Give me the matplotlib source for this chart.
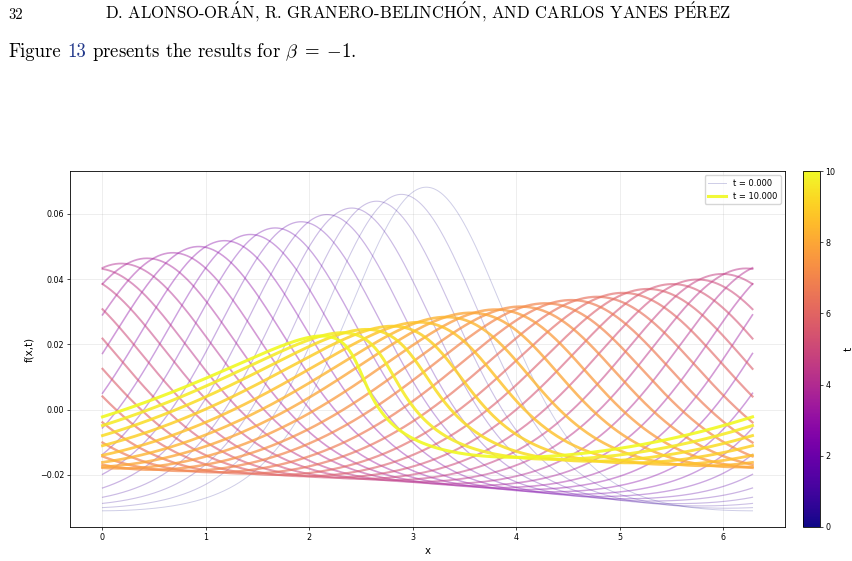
import numpy as np
import matplotlib
matplotlib.use('Agg')
import matplotlib.pyplot as plt
from matplotlib.colors import Normalize
from matplotlib.cm import ScalarMappable

plt.rcParams['mathtext.fontset'] = 'cm'

# --------------------------------------------------
# Snapshot data
# --------------------------------------------------
t_vals = [0.000, 0.333, 0.667, 1.000, 1.333, 1.667, 2.000, 2.333, 2.667, 3.000,
          3.333, 3.667, 4.000, 4.333, 4.667, 5.000, 5.333, 5.667, 6.000, 6.333,
          6.667, 7.000, 7.333, 7.667, 8.000, 8.333, 8.667, 9.000, 9.333, 9.667,
          10.000]

# position of the crest of each snapshot
peak_x = [3.13, 2.89, 2.65, 2.41, 2.17, 1.92, 1.67, 1.43, 1.18, 0.93,
          0.68, 0.43, 0.18, 6.22, 5.99, 5.75, 5.51, 5.27, 5.03, 4.78,
          4.53, 4.28, 4.04, 3.80, 3.56, 3.32, 3.06, 2.80, 2.55, 2.32,
          2.12]

# crest height
peak_y = [0.0682, 0.0660, 0.0639, 0.0618, 0.0598, 0.0576, 0.0557, 0.0537, 0.0518, 0.0500,
          0.0481, 0.0464, 0.0448, 0.0433, 0.0416, 0.0399, 0.0385, 0.0370, 0.0358, 0.0346,
          0.0336, 0.0326, 0.0316, 0.0307, 0.0297, 0.0284, 0.0268, 0.0256, 0.0246, 0.0236,
          0.0226]

# trough depth
trough_y = [-0.0310, -0.0302, -0.0295, -0.0288, -0.0280, -0.0273, -0.0266, -0.0259, -0.0252, -0.0245,
            -0.0239, -0.0233, -0.0227, -0.0221, -0.0216, -0.0212, -0.0208, -0.0204, -0.0200, -0.0196,
            -0.0192, -0.0188, -0.0184, -0.0180, -0.0176, -0.0172, -0.0168, -0.0163, -0.0158, -0.0152,
            -0.0146]

# narrowness of the crest (large = narrow bump)
narrow = [1.75, 1.70, 1.65, 1.60, 1.55, 1.50, 1.45, 1.40, 1.35, 1.30,
          1.25, 1.18, 1.10, 1.02, 0.94, 0.86, 0.78, 0.70, 0.63, 0.57,
          0.52, 0.47, 0.43, 0.40, 0.37, 0.35, 0.33, 0.32, 0.31, 0.30,
          0.30]

# steepening of the back face
skew = [0.00, 0.00, 0.00, 0.00, 0.00, 0.00, 0.00, 0.00, 0.00, 0.00,
        0.00, 0.00, 0.00, 0.02, 0.04, 0.06, 0.08, 0.10, 0.12, 0.15,
        0.18, 0.21, 0.25, 0.29, 0.33, 0.38, 0.43, 0.50, 0.57, 0.65,
        0.75]

# --------------------------------------------------
# Figure setup (page-like layout)
# --------------------------------------------------
W, H = 853, 561
fig = plt.figure(figsize=(W / 100, H / 100), dpi=100)

serif = ['cmr10', 'DejaVu Serif']
fig.text(8 / W, 1 - 19 / H, '32', family=serif, fontsize=10.5, va='baseline')
fig.text(418 / W, 1 - 19 / H,
         r'D. ALONSO-OR$\mathrm{\acute{A}}$N, R. GRANERO-BELINCH$\mathrm{\acute{O}}$N, '
         r'AND CARLOS YANES P$\mathrm{\acute{E}}$REZ',
         family=serif, fontsize=12, ha='center', va='baseline')

renderer = fig.canvas.get_renderer()
line_y = 1 - 57 / H
fs2 = 13.5
space = 0.333 * fs2 * 100 / 72 / W
t1 = fig.text(8 / W, line_y, 'Figure', family=serif, fontsize=fs2, va='baseline')
x1 = t1.get_window_extent(renderer).x1 / W + space
t2 = fig.text(x1, line_y, '13', family=serif, fontsize=fs2, va='baseline',
              color='#22388a')
x2 = t2.get_window_extent(renderer).x1 / W + space
fig.text(x2, line_y, r'presents the results for $\beta\;=\;{-1}$.', family=serif,
         fontsize=fs2, va='baseline')

ax = fig.add_axes([70 / W, 34 / H, 715 / W, 356 / H])
cax = fig.add_axes([803 / W, 34 / H, 17 / W, 356 / H])

cmap = plt.cm.plasma
norm = Normalize(0, 10)

# --------------------------------------------------
# Curves: crest travelling left on a periodic domain
# --------------------------------------------------
x = np.linspace(0, 2 * np.pi, 600)
phi = np.linspace(-np.pi, np.pi, 4000, endpoint=False)
c0 = 1.0

for k, t in enumerate(t_vals):
    kap = narrow[k]
    e = skew[k]
    theta = phi - e * (np.sin(phi - c0) + np.sin(c0))
    shape = (np.exp(kap * np.cos(phi)) - np.exp(-kap)) / (np.exp(kap) - np.exp(-kap))
    prof = np.interp(x - peak_x[k], theta, shape, period=2 * np.pi)
    y = trough_y[k] + (peak_y[k] - trough_y[k]) * prof

    frac = t / 10
    label = None
    if k == 0:
        label = 't = 0.000'
    elif k == len(t_vals) - 1:
        label = 't = 10.000'
    ax.plot(x, y, color=cmap(norm(t)), alpha=0.2 + 0.7 * frac,
            lw=0.7 + 1.5 * frac, label=label)

# --------------------------------------------------
# Axes styling
# --------------------------------------------------
ax.set_xlabel('x', fontsize=7.4, labelpad=3)
ax.set_ylabel('f(x,t)', fontsize=7.4, labelpad=4)
ax.tick_params(labelsize=5.8, length=2, width=0.5, pad=2)
ax.grid(True, alpha=0.3, lw=0.5)
for s in ax.spines.values():
    s.set_linewidth(0.6)

ax.legend(loc='upper right', fontsize=6, handlelength=2.2)

sm = ScalarMappable(norm=norm, cmap=cmap)
cbar = fig.colorbar(sm, cax=cax)
cbar.set_ticks([0, 2, 4, 6, 8, 10])
cbar.ax.tick_params(labelsize=5.8, length=2, width=0.5, pad=2)
cbar.outline.set_linewidth(0.6)
cbar.set_label('t', fontsize=7.4, labelpad=6)

fig.savefig('out.png', dpi=100)
